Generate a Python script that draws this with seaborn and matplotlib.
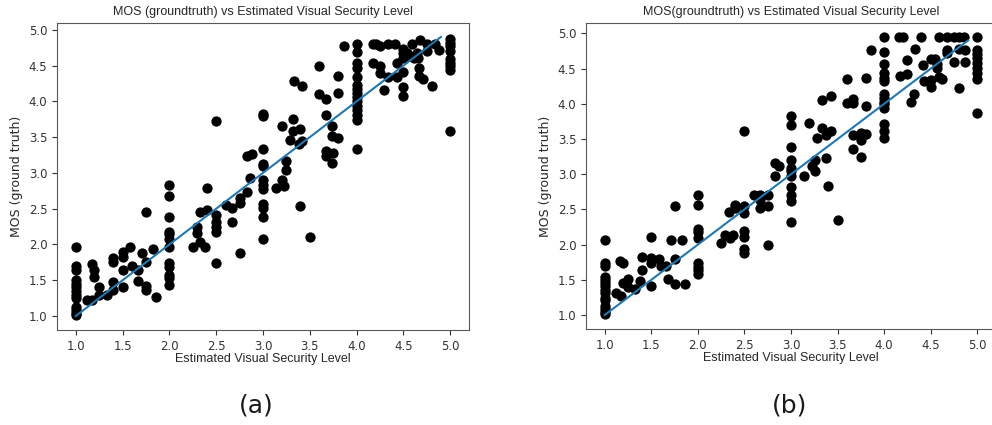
import numpy as np
import seaborn as sns
import matplotlib.pyplot as plt

# (a) estimated level vs MOS
x_a = [1.0] * 13 + [1.12, 1.17, 1.17, 1.2, 1.2, 1.25, 1.25, 1.33, 1.4, 1.4, 1.4, 1.4,
       1.5, 1.5, 1.5, 1.5, 1.58, 1.6, 1.67, 1.67, 1.71, 1.75, 1.75, 1.75, 1.75, 1.83, 1.86] \
    + [2.0] * 12 + [2.25, 2.29, 2.29, 2.33, 2.33, 2.38, 2.4, 2.4] + [2.5] * 6 \
    + [2.6, 2.67, 2.67, 2.75, 2.75, 2.75, 2.83, 2.83, 2.86, 2.88] + [3.0] * 12 \
    + [3.14, 3.2, 3.2, 3.22, 3.25, 3.25, 3.29, 3.32, 3.32, 3.33, 3.38, 3.4, 3.4, 3.42, 3.42,
       3.5, 3.6, 3.6, 3.67, 3.67, 3.67, 3.67, 3.74, 3.74, 3.74, 3.75, 3.8, 3.8, 3.8, 3.86] \
    + [4.0] * 15 \
    + [4.17, 4.17, 4.21, 4.25, 4.25, 4.25, 4.29, 4.33, 4.33, 4.41, 4.43, 4.43] + [4.5] * 6 \
    + [4.54, 4.57, 4.59, 4.61, 4.64, 4.66, 4.68, 4.67, 4.67, 4.71, 4.75, 4.75, 4.8, 4.84, 4.88] \
    + [5.0] * 9
y_a = [1.97, 1.70, 1.65, 1.50, 1.45, 1.40, 1.35, 1.30, 1.25, 1.13, 1.08, 1.04, 1.01,
       1.23, 1.73, 1.23, 1.64, 1.54, 1.41, 1.29, 1.29, 1.81, 1.76, 1.47, 1.37,
       1.90, 1.83, 1.65, 1.40, 1.97, 1.70, 1.64, 1.49, 1.88, 2.45, 1.75, 1.42, 1.37, 1.94, 1.26,
       2.83, 2.68, 2.38, 2.18, 2.14, 2.07, 1.97, 1.74, 1.69, 1.57, 1.53, 1.43,
       1.96, 2.25, 2.16, 2.45, 2.03, 1.97, 2.48, 2.79,
       3.72, 2.41, 2.32, 2.25, 2.18, 1.74,
       2.55, 2.51, 2.31, 2.65, 2.58, 1.88, 2.74, 3.24, 2.93, 3.26,
       3.83, 3.79, 3.34, 3.12, 3.09, 2.90, 2.83, 2.77, 2.56, 2.51, 2.38, 2.07,
       2.79, 2.90, 3.66, 2.82, 3.17, 3.04, 3.46, 3.75, 3.59, 4.28, 3.41, 3.62, 2.54, 3.44, 4.22,
       2.11, 4.50, 4.10, 4.03, 3.81, 3.30, 3.24, 3.65, 3.52, 3.14, 3.28, 3.49, 4.36, 4.11, 4.77,
       4.80, 4.69, 4.53, 4.46, 4.34, 4.23, 4.17, 4.11, 4.06, 4.00, 3.94, 3.88, 3.81, 3.74, 3.33,
       4.80, 4.54, 4.80, 4.77, 4.50, 4.40, 4.16, 4.34, 4.80, 4.80, 4.34, 4.54,
       4.73, 4.67, 4.60, 4.41, 4.20, 4.07,
       4.67, 4.64, 4.80, 4.60, 4.67, 4.60, 4.86, 4.46, 4.36, 4.31, 4.80, 4.70, 4.22, 4.80, 4.72,
       4.87, 4.82, 4.77, 4.71, 4.59, 4.53, 4.49, 4.44, 3.59]

# (b)
x_b = [1.0] * 15 + [1.12, 1.16, 1.2, 1.18, 1.2, 1.25, 1.25, 1.33, 1.38, 1.4, 1.4,
       1.5, 1.5, 1.5, 1.5, 1.58, 1.6, 1.66, 1.68, 1.71, 1.75, 1.75, 1.75, 1.83, 1.86] \
    + [2.0] * 9 + [2.25, 2.29, 2.34, 2.38, 2.33, 2.4, 2.4] + [2.5] * 7 \
    + [2.6, 2.67, 2.67, 2.67, 2.75, 2.75, 2.75, 2.83, 2.83, 2.87] + [3.0] * 11 \
    + [3.14, 3.19, 3.22, 3.26, 3.26, 3.28, 3.33, 3.33, 3.38, 3.38, 3.43, 3.43, 3.4, 3.5,
       3.6, 3.6, 3.67, 3.67, 3.67, 3.67, 3.75, 3.75, 3.75, 3.8, 3.8, 3.8, 3.86] \
    + [4.0] * 14 \
    + [4.16, 4.2, 4.17, 4.25, 4.25, 4.29, 4.32, 4.33, 4.4, 4.42, 4.43, 4.5, 4.5, 4.5,
       4.55, 4.57, 4.57, 4.59, 4.59, 4.62, 4.67, 4.67, 4.67, 4.75, 4.75, 4.8, 4.8, 4.8,
       4.86, 4.87, 4.87] + [5.0] * 9
y_b = [2.07, 1.74, 1.70, 1.54, 1.50, 1.45, 1.42, 1.36, 1.32, 1.24, 1.21, 1.13, 1.09, 1.04, 1.02,
       1.32, 1.77, 1.74, 1.27, 1.46, 1.51, 1.40, 1.37, 1.49, 1.82, 1.64,
       2.11, 1.81, 1.74, 1.42, 1.80, 1.70, 1.69, 1.51, 2.07, 2.55, 1.79, 1.44, 2.07, 1.44,
       2.70, 2.57, 2.22, 2.18, 2.09, 1.74, 1.68, 1.64, 1.58,
       2.03, 2.14, 2.09, 2.14, 2.47, 2.57, 2.52,
       3.61, 2.55, 2.45, 2.19, 2.11, 1.94, 1.88,
       2.70, 2.64, 2.52, 2.71, 2.70, 2.55, 2.00, 3.16, 2.98, 3.11,
       3.83, 3.70, 3.39, 3.20, 3.09, 3.04, 2.98, 2.82, 2.71, 2.62, 2.32,
       2.98, 3.73, 3.11, 3.20, 3.05, 3.51, 3.65, 4.06, 3.56, 3.23, 3.61, 4.11, 2.84, 2.35,
       4.35, 4.01, 4.07, 4.01, 3.56, 3.36, 3.24, 3.59, 3.49, 3.57, 4.37, 3.97, 4.76,
       4.95, 4.73, 4.57, 4.44, 4.36, 4.32, 4.14, 4.08, 4.03, 4.00, 3.94, 3.71, 3.62, 3.51,
       4.95, 4.95, 4.39, 4.43, 4.62, 4.02, 4.14, 4.78, 4.95, 4.55, 4.32, 4.34, 4.24, 4.63,
       4.63, 4.57, 4.51, 4.95, 4.38, 4.35, 4.95, 4.77, 4.72, 4.60, 4.95, 4.22, 4.95, 4.78,
       4.95, 4.76, 4.60,
       4.95, 4.77, 4.71, 4.65, 4.58, 4.51, 4.44, 4.35, 3.87]

# identity reference line
line_x = [1.0, 4.9]
line_y = [1.0, 4.9]

titles = ['MOS (groundtruth) vs Estimated Visual Security Level',
          'MOS(groundtruth) vs Estimated Visual Security Level']
captions = ['(a)', '(b)']
ticks = np.arange(1.0, 5.01, 0.5)

fig = plt.figure(figsize=(9.92, 4.25), dpi=100)
ax_a = fig.add_axes([57 / 992, 95 / 425, 412 / 992, 307 / 425])
ax_b = fig.add_axes([586 / 992, 96 / 425, 410 / 992, 306 / 425])

for ax, xs, ys, title in zip([ax_a, ax_b], [x_a, x_b], [y_a, y_b], titles):
    sns.scatterplot(x=xs, y=ys, color='black', s=55, linewidth=0, ax=ax)
    sns.lineplot(x=line_x, y=line_y, color='#1f77b4', linewidth=1.5, ax=ax)
    ax.set_xticks(ticks)
    ax.set_yticks(ticks)
    ax.tick_params(labelsize=8.5, colors='0.2')
    for s in ax.spines.values():
        s.set_color('0.35')
    ax.set_title(title, fontsize=9, family='Liberation Sans', color='0.15', pad=6)
    ax.set_xlabel('Estimated Visual Security Level', fontsize=9,
                  family='Liberation Sans', color='0.15', labelpad=0)
    ax.set_ylabel('MOS (ground truth)', fontsize=9, color='0.15')

# sub-figure captions
fig.text(256 / 992, 1 - 405 / 425, captions[0], fontsize=18, ha='center', va='center', color='0.1')
fig.text(790 / 992, 1 - 405 / 425, captions[1], fontsize=18, ha='center', va='center', color='0.1')

plt.savefig('out.png', dpi=100)
